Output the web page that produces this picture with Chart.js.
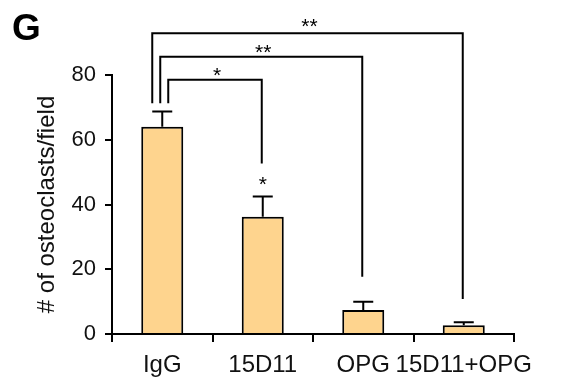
<!DOCTYPE html>
<html>
<head>
<meta charset="utf-8">
<script src="https://cdn.jsdelivr.net/npm/chart.js@4"></script>
<style>
  html, body { margin: 0; padding: 0; background: #fff; }
  #wrap { width: 561px; height: 383px; position: relative; }
</style>
</head>
<body>
<div id="wrap"><canvas id="osteo-canvas" width="561" height="383"></canvas></div>
<script>
// data
const categories = ['IgG', '15D11', 'OPG', '15D11+OPG'];
const means = [64.0, 36.2, 7.4, 2.7];
const errorTops = [68.7, 42.5, 10.0, 3.6];

// significance brackets: [from bar, to bar, height, left end, right end, label]
const bracketFrom = [0, 0, 0];
const bracketTo = [1, 2, 3];
const bracketHeight = [78.5, 85.6, 92.9];
const bracketLeftEnd = [71.3, 71.3, 71.3];
const bracketRightEnd = [52.7, 17.7, 10.8];
const bracketLabels = ['*', '**', '**'];
const bracketLeftShift = [6, -2, -10];
const barStar = { index: 1, value: 47.9, text: '*' };

const FONT = '"Liberation Sans", Arial, sans-serif';

const extras = {
    id: 'extras',
    afterDatasetsDraw(chart) {
        const ctx = chart.ctx;
        const y = chart.scales.y;
        const meta = chart.getDatasetMeta(0);
        ctx.save();
        ctx.strokeStyle = '#000';
        ctx.lineWidth = 2;

        // upper error bars
        meta.data.forEach((bar, i) => {
            const top = y.getPixelForValue(errorTops[i]);
            ctx.beginPath();
            ctx.moveTo(bar.x, bar.y);
            ctx.lineTo(bar.x, top);
            ctx.moveTo(bar.x - 10, top);
            ctx.lineTo(bar.x + 10, top);
            ctx.stroke();
        });

        // brackets
        ctx.fillStyle = '#000';
        ctx.font = '21px ' + FONT;
        ctx.textAlign = 'center';
        ctx.textBaseline = 'alphabetic';
        for (let k = 0; k < bracketFrom.length; k++) {
            const x1 = meta.data[bracketFrom[k]].x + bracketLeftShift[k];
            const x2 = meta.data[bracketTo[k]].x - 1;
            const yh = y.getPixelForValue(bracketHeight[k]);
            ctx.beginPath();
            ctx.moveTo(x1, y.getPixelForValue(bracketLeftEnd[k]));
            ctx.lineTo(x1, yh);
            ctx.lineTo(x2, yh);
            ctx.lineTo(x2, y.getPixelForValue(bracketRightEnd[k]));
            ctx.stroke();
            ctx.fillText(bracketLabels[k], (x1 + x2) / 2 + 2, yh + (k === 2 ? 0 : 2));
        }
        const sx = meta.data[barStar.index].x;
        ctx.fillText(barStar.text, sx, y.getPixelForValue(barStar.value) + 12);

        // panel letter
        ctx.font = 'bold 37px ' + FONT;
        ctx.textAlign = 'left';
        ctx.fillText('G', 12, 40);
        ctx.restore();
    }
};

const osteo_config = {
    type: 'bar',
    data: {
        labels: categories,
        datasets: [
            {
                data: means,
                backgroundColor: '#FED48E',
                borderColor: '#000',
                borderWidth: 2,
                borderSkipped: 'bottom',
                categoryPercentage: 1,
                barPercentage: 0.418,
            }
        ]
    },
    options: {
        responsive: false,
        animation: false,
        layout: {
            padding: { left: 33, top: 75, right: 47, bottom: 0 }
        },
        plugins: {
            legend: { display: false },
            tooltip: { enabled: false },
        },
        scales: {
            x: {
                offset: true,
                grid: {
                    offset: true,
                    drawOnChartArea: false,
                    drawTicks: true,
                    tickLength: 8,
                    color: '#000',
                    lineWidth: 2,
                },
                border: { color: '#000', width: 2 },
                ticks: {
                    color: '#111',
                    padding: 9,
                    autoSkip: false,
                    maxRotation: 0,
                    minRotation: 0,
                    font: { family: FONT, size: 24 },
                },
                afterFit(scale) { scale.height = 49; }
            },
            y: {
                min: 0,
                max: 80,
                ticks: {
                    stepSize: 20,
                    color: '#111',
                    padding: 9,
                    font: { family: FONT, size: 22 },
                },
                grid: {
                    drawOnChartArea: false,
                    tickLength: 7,
                    color: '#000',
                    lineWidth: 2,
                },
                border: { color: '#000', width: 2 },
                title: {
                    display: true,
                    text: '# of osteoclasts/field',
                    color: '#111',
                    font: { family: FONT, size: 24 },
                    padding: { top: 0, bottom: 0 },
                },
                afterFit(scale) { scale.width = 79; }
            }
        }
    },
    plugins: [extras]
};

const osteo_ctx = document.getElementById('osteo-canvas');
new Chart(osteo_ctx, osteo_config);
</script>
</body>
</html>
